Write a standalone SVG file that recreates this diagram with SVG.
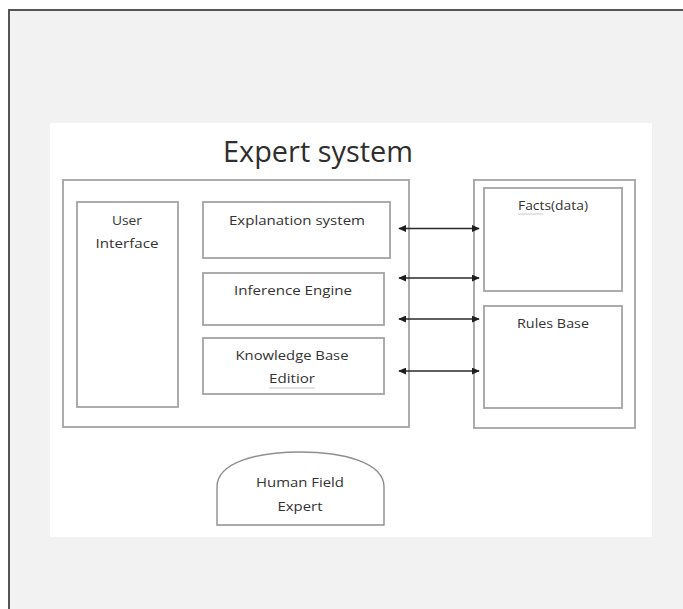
<svg xmlns="http://www.w3.org/2000/svg" width="683" height="609" viewBox="0 0 683 609">
<defs>
<style>
.box{fill:#fff;stroke:#a3a3a3;stroke-width:1.8}
.t{font-family:"Open Sans","Noto Sans",sans-serif;font-size:12.5px;fill:#333;text-anchor:middle}
.title{font-family:"Open Sans","Noto Sans",sans-serif;font-size:29px;fill:#2e2e2e;text-anchor:middle}
.conn{stroke:#2a2a2a;stroke-width:1.5;fill:none;marker-start:url(#ah);marker-end:url(#ah)}
.squig{stroke:#c8c8c8;stroke-width:1;fill:none}
</style>
<marker id="ah" viewBox="0 0 10 10" refX="9" refY="5" markerWidth="8" markerHeight="7" orient="auto-start-reverse" markerUnits="userSpaceOnUse" preserveAspectRatio="none">
<path d="M0,0 L10,5 L0,10 Z" fill="#1e1e1e"/>
</marker>
</defs>
<rect x="0" y="0" width="683" height="609" fill="#ffffff"/>
<rect x="9" y="10" width="674" height="599" fill="#f2f2f2"/>
<path d="M9,609 V10 H683" fill="none" stroke="#555" stroke-width="2"/>
<rect x="50" y="123" width="602" height="414" fill="#ffffff"/>

<g id="title"><text class="title" x="318" y="162" textLength="190" lengthAdjust="spacingAndGlyphs">Expert system</text></g>

<g id="expert-system"><rect class="box" x="63" y="180" width="346" height="247"/></g>
<g id="user-interface">
<rect class="box" x="77" y="202" width="101" height="205"/>
<text class="t" x="127" y="225" textLength="30" lengthAdjust="spacingAndGlyphs">User</text>
<text class="t" x="127" y="248" textLength="63" lengthAdjust="spacingAndGlyphs">Interface</text>
</g>
<g id="explanation-system">
<rect class="box" x="203" y="202" width="187" height="56"/>
<text class="t" x="297" y="225" textLength="136" lengthAdjust="spacingAndGlyphs">Explanation system</text>
</g>
<g id="inference-engine">
<rect class="box" x="203" y="273" width="181" height="52"/>
<text class="t" x="293" y="295" textLength="118" lengthAdjust="spacingAndGlyphs">Inference Engine</text>
</g>
<g id="knowledge-base-editor">
<rect class="box" x="203" y="338" width="181" height="56"/>
<text class="t" x="292" y="360" textLength="113" lengthAdjust="spacingAndGlyphs">Knowledge Base</text>
<text class="t" x="292" y="383" textLength="46" lengthAdjust="spacingAndGlyphs">Editior</text>
<path class="squig" d="M269,388 H315"/>
</g>

<g id="knowledge-base"><rect class="box" x="474" y="180" width="161" height="248"/></g>
<g id="facts">
<rect class="box" x="484" y="188" width="138" height="103"/>
<text class="t" x="553" y="210" textLength="70" lengthAdjust="spacingAndGlyphs">Facts(data)</text>
<path class="squig" d="M518,214 H543"/>
</g>
<g id="rules-base">
<rect class="box" x="484" y="306" width="138" height="102"/>
<text class="t" x="553" y="328" textLength="72" lengthAdjust="spacingAndGlyphs">Rules Base</text>
</g>

<g id="human-field-expert">
<path d="M217,525 V487 C217,462 258,452 300,452 C342,452 384,462 384,487 V525 Z" fill="#fff" stroke="#8e8e8e" stroke-width="1.4"/>
<text class="t" x="300" y="487" textLength="88" lengthAdjust="spacingAndGlyphs">Human Field</text>
<text class="t" x="300" y="511" textLength="45" lengthAdjust="spacingAndGlyphs">Expert</text>
</g>

<g id="connectors">
<line class="conn" x1="399" y1="228.5" x2="479" y2="228.5"/>
<line class="conn" x1="399" y1="278" x2="479" y2="278"/>
<line class="conn" x1="399" y1="319" x2="479" y2="319"/>
<line class="conn" x1="399" y1="371" x2="479" y2="371"/>
</g>
</svg>
